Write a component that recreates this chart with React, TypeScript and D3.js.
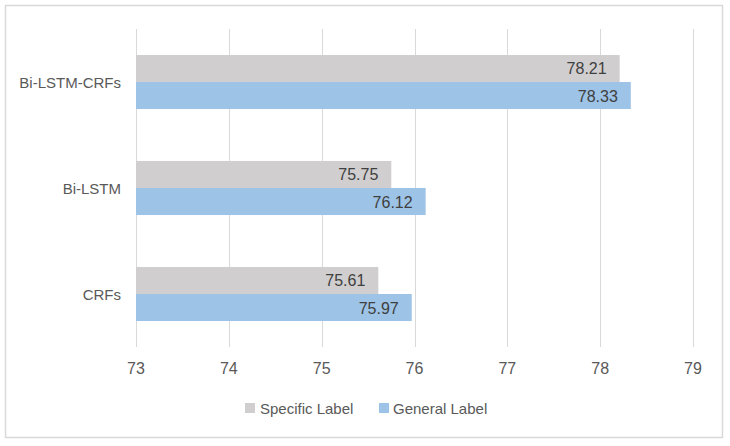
import React from "react";
import * as d3 from "d3";

const categories = ["Bi-LSTM-CRFs", "Bi-LSTM", "CRFs"];
const seriesNames = ["Specific Label", "General Label"];
const specificValues = [78.21, 75.75, 75.61];
const generalValues = [78.33, 76.12, 75.97];
const tickValues = [73, 74, 75, 76, 77, 78, 79];
const colors = ["#D0CECE", "#9DC3E6"];

const W = 730;
const H = 446;
const plot = { left: 136, right: 693, top: 29, bottom: 347 };
const font = "'Liberation Sans', Arial, sans-serif";

export default function App() {
  const x = d3.scaleLinear().domain([73, 79]).range([plot.left, plot.right]);
  const y = d3
    .scaleBand<string>()
    .domain(categories)
    .range([plot.top, plot.bottom])
    .paddingInner(0.49)
    .paddingOuter(0.245);
  const sub = d3.scaleBand<number>().domain([0, 1]).range([0, y.bandwidth()]);
  const series = [specificValues, generalValues];

  return (
    <svg
      width={W}
      height={H}
      style={{ position: "absolute", left: 0, top: 0, background: "#fff" }}
      fontFamily={font}
    >
      <rect x={5.5} y={5.5} width={717} height={432} fill="#fff" stroke="#D9D9D9" strokeWidth={1.5} />
      {tickValues.map((t) => (
        <line
          key={t}
          x1={Math.round(x(t)) + 0.5}
          x2={Math.round(x(t)) + 0.5}
          y1={plot.top}
          y2={plot.bottom}
          stroke="#D9D9D9"
          strokeWidth={1}
        />
      ))}
      {tickValues.map((t) => (
        <text
          key={"l" + t}
          x={x(t)}
          y={374}
          textAnchor="middle"
          fontSize={16}
          fill="#595959"
        >
          {t}
        </text>
      ))}
      {categories.map((c, i) => (
        <g key={c}>
          {series.map((vals, s) => {
            const yy = (y(c) as number) + (sub(s) as number);
            const h = sub.bandwidth();
            return (
              <g key={s}>
                <rect
                  x={x(73)}
                  y={yy}
                  width={x(vals[i]) - x(73)}
                  height={h}
                  fill={colors[s]}
                />
                <text
                  x={x(vals[i]) - 13}
                  y={yy + h / 2 + 6}
                  textAnchor="end"
                  fontSize={16}
                  fill="#404040"
                >
                  {vals[i].toFixed(2)}
                </text>
              </g>
            );
          })}
          <text
            x={121}
            y={(y(c) as number) + y.bandwidth() / 2 + 5.5}
            textAnchor="end"
            fontSize={15}
            fill="#595959"
          >
            {c}
          </text>
        </g>
      ))}
      <g>
        <rect x={245} y={403} width={10} height={10} fill={colors[0]} />
        <text x={260} y={413.5} fontSize={15} fill="#595959">
          {seriesNames[0]}
        </text>
        <rect x={379} y={403} width={10} height={10} fill={colors[1]} />
        <text x={393} y={413.5} fontSize={15} fill="#595959">
          {seriesNames[1]}
        </text>
      </g>
    </svg>
  );
}
